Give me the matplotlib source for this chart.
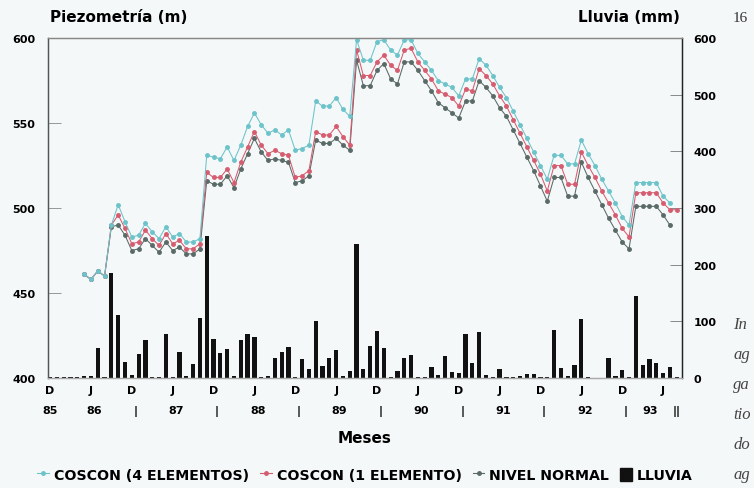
import matplotlib
matplotlib.use("Agg")
import matplotlib.pyplot as plt
import numpy as np
from matplotlib.lines import Line2D
from matplotlib.patches import Patch

nan = np.nan

# months counted from Dec 1985 (0) to Aug 1993 (92)
months = np.arange(93)
tick_letters = ["D", "J"] * 8
year_labels = ["86", "87", "88", "89", "90", "91", "92"]

# rainfall (mm)
lluvia = [1, 1, 1, 1, 2, 4, 3, 53, 2, 186,
          111, 28, 5, 42, 67, 2, 1, 78, 2, 46,
          3, 25, 106, 250, 69, 44, 52, 3, 67, 78,
          73, 2, 3, 35, 46, 55, 2, 33, 16, 100,
          21, 35, 50, 3, 12, 237, 16, 56, 83, 53,
          1, 12, 35, 40, 1, 1, 19, 5, 39, 10,
          9, 77, 27, 81, 6, 1, 16, 1, 1, 4,
          7, 7, 2, 2, 85, 18, 4, 23, 104, 2,
          0, 0, 35, 4, 14, 1, 145, 23, 33, 26,
          8, 19, 2]

# piezometry (m)
coscon4 = [nan, nan, nan, nan, nan, 461, 458, 463, 460,
           490, 502, 492, 483, 484, 491, 486, 482, 489, 483, 485, 480, 480, 482,
           531, 530, 529, 536, 528, 537, 548, 556, 549, 544, 546, 543, 546, 534, 535, 537,
           563, 560, 560, 565, 558, 554,
           599, 587, 587, 598, 599, 593, 590, 599, 599, 591, 586, 581, 575, 573, 571, 566,
           576, 576, 588, 584, 578, 571, 565,
           557, 549, 541, 533, 525, 517, 531, 531, 526, 526, 540, 532, 525, 517, 510, 503,
           495, 490, 515, 515, 515, 515, 507, 503, nan]

coscon1 = [nan, nan, nan, nan, nan, 461, 458, 463, 460,
           490, 496, 488, 479, 480, 487, 482, 478, 485, 479, 481, 476, 476, 479,
           521, 518, 518, 523, 515, 527, 536, 545, 537, 532, 534, 532, 531, 518, 519, 522,
           545, 543, 543, 548, 542, 537,
           593, 578, 578, 586, 590, 584, 581, 593, 594, 586, 581, 576, 569, 567, 565, 560,
           570, 569, 582, 578, 573, 566, 560,
           552, 544, 536, 528, 520, 510, 525, 525, 514, 514, 533, 525, 518, 510, 503, 496,
           488, 483, 509, 509, 509, 509, 503, 499, 499]

nivel = [nan, nan, nan, nan, nan, 461, 458, 463, 460,
         489, 490, 484, 475, 476, 482, 478, 474, 480, 475, 477, 473, 473, 476,
         516, 514, 514, 519, 512, 523, 532, 541, 533, 528, 529, 528, 527, 515, 516, 519,
         540, 538, 538, 541, 537, 534,
         587, 572, 572, 581, 585, 576, 573, 586, 586, 581, 575, 569, 562, 559, 556, 553,
         563, 563, 575, 571, 566, 559, 554,
         546, 538, 530, 522, 513, 504, 518, 518, 507, 507, 527, 518, 510, 502, 494, 487,
         480, 476, 501, 501, 501, 501, 496, 490, nan]

bg = "#f5f8f8"
c_cyan = "#6cc4ca"
c_red = "#d65c70"
c_gray = "#5a6a67"

plt.rcParams["font.family"] = "DejaVu Sans"
plt.rcParams["font.weight"] = "bold"

fig = plt.figure(figsize=(7.54, 4.89), dpi=100, facecolor=bg)
ax = fig.add_axes([0.0637, 0.225, 0.841, 0.695], facecolor=bg)
axp = ax.twinx()
axp.patch.set_visible(False)

# rain bars on the base axes (right scale)
ax.bar(months, lluvia, width=0.62, color="#111111", zorder=2)
ax.set_ylim(0, 600)
ax.set_yticks(range(0, 601, 100))
ax.yaxis.tick_right()
ax.yaxis.set_label_position("right")

# piezometry lines on the twin (left scale)
axp.plot(months, nivel, "-o", color=c_gray, ms=2.5, lw=0.75, clip_on=False)
axp.plot(months, coscon1, "-o", color=c_red, ms=2.5, lw=0.75, clip_on=False)
axp.plot(months, coscon4, "-o", color=c_cyan, ms=2.5, lw=0.75, clip_on=False)
axp.set_ylim(400, 600)
axp.set_yticks(range(400, 601, 50))
axp.yaxis.tick_left()
axp.yaxis.set_label_position("left")

ax.set_xlim(-0.3, 92.8)
ax.set_xticks(range(0, 91, 6))
ax.set_xticklabels(tick_letters)
ax.tick_params(axis="x", length=0, pad=5, labelsize=8)
ax.tick_params(axis="y", direction="in", length=9, width=0.6, color="#777777",
               pad=8, labelsize=8)
axp.tick_params(axis="y", direction="in", length=9, width=0.6, color="#888888",
                pad=9, labelsize=8)

for a in (ax, axp):
    a.spines["left"].set_color("#555555")
    a.spines["right"].set_color("#222222")
    a.spines["top"].set_color("#888888")
    a.spines["bottom"].set_color("#aaaaaa")
    for s in a.spines.values():
        s.set_linewidth(0.9)

# second row of x labels: years and separators
tr = ax.get_xaxis_transform()
row2 = -0.095
ax.text(0, row2, "85", transform=tr, ha="center", va="center", fontsize=8)
for k, yl in enumerate(year_labels):
    ax.text(12 * k + 6.5, row2, yl, transform=tr, ha="center", va="center", fontsize=8)
    ax.text(12 * k + 12.5, row2, "|", transform=tr, ha="center", va="center", fontsize=8)
ax.text(88.1, row2, "93", transform=tr, ha="center", va="center", fontsize=8)
ax.text(92, row2, "||", transform=tr, ha="center", va="center", fontsize=8)

fig.text(0.483, 1 - 439 / 489, "Meses", ha="center", va="center", fontsize=11)
fig.text(50 / 754, 1 - 18 / 489, "Piezometría (m)", ha="left", va="center", fontsize=11)
fig.text(680 / 754, 1 - 18 / 489, "Lluvia (mm)", ha="right", va="center", fontsize=11)

# page remnants from the scan
fig.text(733 / 754, 1 - 18 / 489, "16", ha="left", va="center", fontsize=11,
         family="Liberation Serif", weight="normal", color="#333333")
for i, frag in enumerate(["In", "ag", "ga", "tio", "do", "ag"]):
    fig.text(733 / 754, 1 - (325 + 30 * i) / 489, frag, ha="left", va="center",
             fontsize=12, family="Liberation Serif", style="italic",
             weight="normal", color="#444444")

handles = [Line2D([], [], color=c_cyan, marker="o", ms=2.5, lw=0.8),
           Line2D([], [], color=c_red, marker="o", ms=2.5, lw=0.8),
           Line2D([], [], color=c_gray, marker="o", ms=2.5, lw=0.8),
           Patch(color="#111111")]
labels = ["COSCON (4 ELEMENTOS)", "COSCON (1 ELEMENTO)", "NIVEL NORMAL", "LLUVIA"]
fig.legend(handles, labels, loc="center", bbox_to_anchor=(0.484, 1 - 476 / 489),
           ncol=4, frameon=False, fontsize=10.2, handlelength=0.8,
           handletextpad=0.35, columnspacing=0.8, handleheight=1.0)

fig.savefig("out.png", dpi=100, facecolor=bg)
